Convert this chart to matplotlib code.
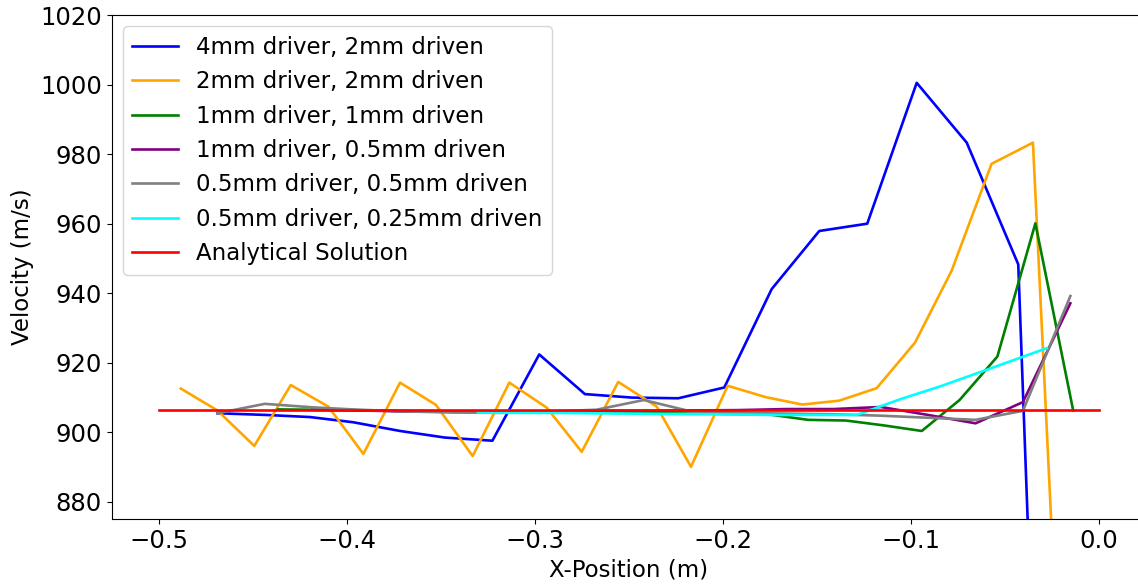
import matplotlib
matplotlib.use("Agg")
import matplotlib.pyplot as plt

# Velocity profiles along the tube for several driver/driven resolutions
x_4mm_2mm = [-0.4687, -0.4425, -0.4195, -0.3964, -0.3716, -0.3477, -0.3225, -0.2976,
             -0.2733, -0.2483, -0.2237, -0.1992, -0.1740, -0.1487, -0.1232, -0.0969,
             -0.0703, -0.0429, -0.0187]
v_4mm_2mm = [905.5, 905.0, 904.4, 902.9, 900.4, 898.5, 897.6, 922.4,
             911.0, 910.0, 909.8, 912.9, 941.2, 957.9, 960.0, 1000.5,
             983.3, 948.3, 593.0]

x_2mm_2mm = [-0.4882, -0.4687, -0.4491, -0.4297, -0.4097, -0.3911, -0.3716, -0.3525,
             -0.3330, -0.3135, -0.2936, -0.2750, -0.2556, -0.2351, -0.2169, -0.1974,
             -0.1770, -0.1577, -0.1382, -0.1182, -0.0978, -0.0783, -0.0571, -0.0351,
             -0.0156]
v_2mm_2mm = [912.6, 906.3, 896.1, 913.6, 907.4, 893.8, 914.3, 907.9,
             893.2, 914.3, 907.1, 894.4, 914.5, 907.4, 890.1, 913.4,
             910.1, 908.0, 909.1, 912.7, 925.8, 946.5, 977.2, 983.3,
             765.0]

x_1mm_1mm = [-0.4365, -0.4163, -0.3962, -0.3761, -0.3559, -0.3358, -0.3157, -0.2955,
             -0.2754, -0.2553, -0.2351, -0.2150, -0.1949, -0.1747, -0.1546, -0.1345,
             -0.1144, -0.0942, -0.0741, -0.0540, -0.0338, -0.0137]
v_1mm_1mm = [906.6, 906.5, 906.4, 906.2, 906.1, 906.0, 905.9, 905.8,
             905.7, 905.6, 905.5, 905.4, 905.3, 905.1, 903.6, 903.4,
             902.0, 900.4, 909.3, 921.8, 960.1, 906.3]

x_1mm_05mm = [-0.4183, -0.3931, -0.3679, -0.3427, -0.3176, -0.2924, -0.2672, -0.2420,
              -0.2168, -0.1916, -0.1664, -0.1412, -0.1160, -0.0908, -0.0656, -0.0404,
              -0.0152]
v_1mm_05mm = [906.5, 906.3, 906.0, 905.9, 905.9, 906.0, 906.2, 906.2,
              906.3, 906.4, 906.7, 906.7, 907.3, 905.0, 902.6, 908.7,
              937.1]

x_05mm_05mm = [-0.4687, -0.4435, -0.4183, -0.3931, -0.3679, -0.3427, -0.3176, -0.2924,
               -0.2672, -0.2420, -0.2168, -0.1916, -0.1664, -0.1412, -0.1160, -0.0908,
               -0.0656, -0.0404, -0.0152]
v_05mm_05mm = [905.5, 908.2, 907.2, 906.5, 906.0, 905.7, 905.6, 906.0,
               906.5, 909.3, 906.0, 905.6, 905.4, 905.2, 904.8, 904.2,
               903.6, 906.2, 939.2]

x_05mm_025mm = [-0.3302, -0.3100, -0.2900, -0.2700, -0.2500, -0.2300, -0.2100, -0.1900,
                -0.1700, -0.1500, -0.1288, -0.1058, -0.0845, -0.0560, -0.0278]
v_05mm_025mm = [905.7, 905.6, 905.6, 905.5, 905.4, 905.3, 905.2, 905.1,
                905.0, 905.0, 905.0, 909.5, 913.2, 918.7, 924.2]

x_analytical = [-0.5, 0.0]
v_analytical = [906.3, 906.3]

series = [
    (x_4mm_2mm, v_4mm_2mm, "blue", "4mm driver, 2mm driven"),
    (x_2mm_2mm, v_2mm_2mm, "orange", "2mm driver, 2mm driven"),
    (x_1mm_1mm, v_1mm_1mm, "green", "1mm driver, 1mm driven"),
    (x_1mm_05mm, v_1mm_05mm, "purple", "1mm driver, 0.5mm driven"),
    (x_05mm_05mm, v_05mm_05mm, "gray", "0.5mm driver, 0.5mm driven"),
    (x_05mm_025mm, v_05mm_025mm, "cyan", "0.5mm driver, 0.25mm driven"),
    (x_analytical, v_analytical, "red", "Analytical Solution"),
]

fig = plt.figure(figsize=(11.38, 5.86), dpi=100)
ax = fig.add_axes([0.098, 0.1138, 0.909, 0.8606])

for xs, vs, color, label in series:
    ax.plot(xs, vs, color=color, linewidth=1.9, label=label)

ax.set_xlim(-0.525, 0.025)
ax.set_ylim(875, 1020)
ax.set_xticks([-0.5, -0.4, -0.3, -0.2, -0.1, 0.0])
ax.set_yticks([880, 900, 920, 940, 960, 980, 1000, 1020])
ax.tick_params(labelsize=17.5)
ax.set_xlabel("X-Position (m)", fontsize=16.5)
ax.set_ylabel("Velocity (m/s)", fontsize=16.5)
ax.legend(loc="upper left", fontsize=16.5)

fig.savefig("out.png", dpi=100)
